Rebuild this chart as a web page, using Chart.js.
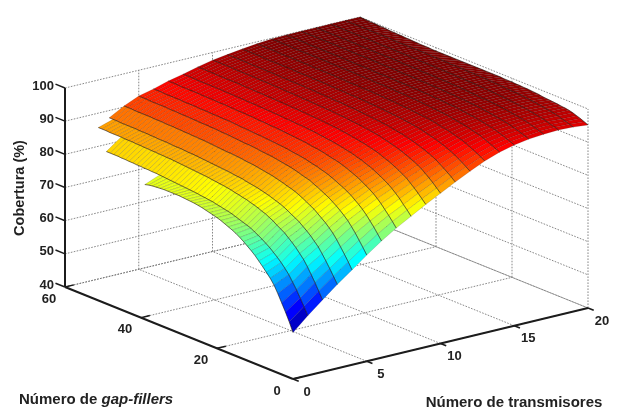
<!DOCTYPE html>
<html>
<head>
<meta charset="utf-8">
<script src="https://cdn.jsdelivr.net/npm/chart.js@4"></script>
<style>
  html, body { margin: 0; background: #fff; }
  canvas { display: block; filter: blur(0.5px); }
</style>
</head>
<body>
<canvas id="chart" width="618" height="412"></canvas>
<script>
const txTicks = [0, 5, 10, 15, 20];
const gapTicks = [0, 20, 40, 60];
const covTicks = [40, 50, 60, 70, 80, 90, 100];

// coverage (%) per transmitter count, one value per gap-filler count from 0 up
const covT0 = [54,56.8,59.3,61.6,63.9,66,67.6,68.9,70.2,71.4,72.6,73.6,74.5,75.4,76.2,76.9,77.5,78,78.5,79,79.4,79.7,80,80.3,80.6,80.8,81,81.1,81.2,81.3,81.4,81.4,81.4,81.4,81.4,81.3,81.2,81.1,80.9,80.6];
const covT1 = [58,60.3,62.4,64.5,66.3,68.1,69.5,70.8,71.9,72.9,73.9,74.7,75.5,76.2,76.8,77.5,77.9,78.3,78.7,79.1,79.5,79.8,80,80.3,80.5,80.8,80.9,81.1,81.2,81.4,81.5,81.6,81.7,81.8,81.9,82,82.1,82.2,82.3,82.4,82.5,82.5,82.6,82.6,82.7,82.7,82.8,82.8,82.9,82.9,83,83,83,83];
const covT2 = [61.7,63.9,66,68,69.9,71.6,72.9,74.2,75.3,76.3,77.3,78,78.7,79.5,80.1,80.7,81.1,81.6,82,82.3,82.7,82.9,83.2,83.4,83.7,83.9,84.1,84.2,84.4,84.5,84.7,84.8,84.9,85,85.1,85.2,85.3,85.4,85.5,85.6,85.7,85.7,85.8,85.8,85.9,85.9,86,86,86.1,86.1,86.2,86.2,86.2,86.3,86.3,86.3,86.3,86.4,86.4,86.4];
const covT3 = [65.3,67.3,69.2,71,72.7,74.3,75.5,76.7,77.7,78.6,79.5,80.2,80.8,81.5,82.1,82.6,83,83.4,83.8,84.1,84.4,84.7,84.9,85.1,85.3,85.6,85.7,85.8,86,86.1,86.2,86.3,86.4,86.5,86.6,86.7,86.8,86.9,87,87,87.1,87.2,87.2,87.2,87.3,87.4,87.4,87.4,87.5,87.5,87.6,87.6,87.6,87.7,87.7,87.7,87.7,87.7,87.8,87.8,87.8];
const covT4 = [68.6,70.6,72.4,74.1,75.8,77.3,78.5,79.6,80.5,81.4,82.3,82.9,83.6,84.2,84.8,85.3,85.7,86,86.4,86.7,87,87.3,87.5,87.7,87.9,88.1,88.3,88.4,88.5,88.7,88.8,88.9,89,89,89.1,89.2,89.3,89.4,89.5,89.6,89.6,89.7,89.7,89.8,89.8,89.9,89.9,90,90,90,90.1,90.1,90.1,90.2,90.2,90.2,90.2,90.2,90.3,90.3,90.3];
const covT5 = [72,73.8,75.5,77.2,78.7,80.1,81.2,82.2,83.1,83.9,84.7,85.3,85.9,86.5,87,87.6,87.9,88.2,88.6,88.9,89.2,89.4,89.6,89.8,90,90.2,90.3,90.4,90.5,90.7,90.8,90.9,90.9,91,91.1,91.2,91.3,91.4,91.4,91.5,91.6,91.6,91.7,91.7,91.7,91.8,91.8,91.9,91.9,91.9,92,92,92,92.1,92.1,92.1,92.1,92.1,92.2,92.2,92.2];
const covT6 = [75.2,76.8,78.4,79.8,81.2,82.4,83.4,84.3,85.2,85.9,86.6,87.1,87.7,88.2,88.7,89.1,89.4,89.8,90,90.3,90.6,90.8,91,91.1,91.3,91.5,91.6,91.7,91.8,91.9,92,92.1,92.2,92.2,92.3,92.4,92.5,92.5,92.6,92.7,92.8,92.8,92.8,92.9,92.9,92.9,93,93,93,93.1,93.1,93.1,93.1,93.2,93.2,93.2,93.2,93.2,93.3,93.3,93.3];
const covT7 = [78,79.5,80.9,82.2,83.5,84.6,85.6,86.4,87.1,87.8,88.5,89,89.5,90,90.4,90.8,91.1,91.3,91.6,91.9,92.1,92.3,92.4,92.6,92.8,92.9,93,93.1,93.2,93.3,93.4,93.5,93.6,93.6,93.7,93.8,93.8,93.9,94,94,94.1,94.1,94.1,94.2,94.2,94.3,94.3,94.3,94.4,94.4,94.4,94.4,94.5,94.5,94.5,94.5,94.5,94.5,94.6,94.6,94.6];
const covT8 = [80.5,81.9,83.1,84.4,85.5,86.5,87.4,88.1,88.8,89.4,90,90.5,90.9,91.4,91.7,92.1,92.4,92.6,92.9,93.1,93.3,93.5,93.6,93.8,93.9,94.1,94.2,94.3,94.4,94.5,94.5,94.6,94.7,94.7,94.8,94.9,94.9,95,95,95.1,95.1,95.2,95.2,95.2,95.3,95.3,95.3,95.4,95.4,95.4,95.5,95.5,95.5,95.5,95.5,95.5,95.5,95.6,95.6,95.6,95.6];
const covT9 = [83,84.2,85.4,86.5,87.5,88.5,89.2,89.9,90.5,91.1,91.6,92,92.5,92.9,93.2,93.5,93.8,94,94.2,94.4,94.6,94.8,94.9,95.1,95.2,95.3,95.4,95.5,95.6,95.7,95.7,95.8,95.9,95.9,96,96,96.1,96.1,96.2,96.2,96.3,96.3,96.3,96.4,96.4,96.4,96.5,96.5,96.5,96.6,96.6,96.6,96.6,96.6,96.6,96.6,96.7,96.7,96.7,96.7,96.7];
const covT10 = [85.3,86.4,87.5,88.5,89.4,90.3,91,91.6,92.1,92.6,93.1,93.5,93.9,94.2,94.5,94.8,95.1,95.3,95.5,95.7,95.8,96,96.1,96.2,96.3,96.5,96.5,96.6,96.7,96.8,96.8,96.9,96.9,97,97,97.1,97.1,97.2,97.2,97.3,97.3,97.3,97.4,97.4,97.4,97.5,97.5,97.5,97.5,97.6,97.6,97.6,97.6,97.6,97.6,97.7,97.7,97.7,97.7,97.7,97.7];
const covT11 = [87.6,88.6,89.5,90.3,91.1,91.9,92.5,93,93.5,93.9,94.3,94.7,95,95.3,95.6,95.8,96,96.2,96.4,96.5,96.7,96.8,96.9,97,97.1,97.2,97.3,97.4,97.4,97.5,97.6,97.6,97.6,97.7,97.7,97.8,97.8,97.9,97.9,97.9,98,98,98,98,98.1,98.1,98.1,98.1,98.2,98.2,98.2,98.2,98.2,98.2,98.2,98.3,98.3,98.3,98.3,98.3,98.3];
const covT12 = [89.8,90.6,91.4,92.1,92.8,93.4,93.9,94.4,94.8,95.2,95.5,95.8,96.1,96.4,96.6,96.8,97,97.1,97.3,97.4,97.5,97.6,97.7,97.8,97.9,98,98,98.1,98.2,98.2,98.3,98.3,98.3,98.4,98.4,98.4,98.5,98.5,98.6,98.6,98.6,98.6,98.7,98.7,98.7,98.7,98.7,98.8,98.8,98.8,98.8,98.8,98.8,98.8,98.8,98.9,98.9,98.9,98.9,98.9,98.9];
const covT13 = [91.8,92.5,93.1,93.7,94.3,94.8,95.3,95.6,96,96.3,96.6,96.8,97,97.3,97.5,97.7,97.8,97.9,98,98.1,98.3,98.3,98.4,98.5,98.6,98.6,98.7,98.7,98.8,98.8,98.9,98.9,98.9,99,99,99,99,99.1,99.1,99.1,99.2,99.2,99.2,99.2,99.2,99.2,99.3,99.3,99.3,99.3,99.3,99.3,99.3,99.3,99.3,99.4,99.4,99.4,99.4,99.4,99.4];
const covT14 = [93.4,94,94.5,95,95.5,96,96.3,96.6,96.9,97.2,97.4,97.6,97.8,98,98.2,98.3,98.4,98.5,98.6,98.7,98.8,98.9,99,99,99.1,99.2,99.2,99.2,99.3,99.3,99.4,99.4,99.4,99.4,99.5,99.5,99.5,99.5,99.6,99.6,99.6,99.6,99.6,99.6,99.6,99.7,99.7,99.7,99.7,99.7,99.7,99.7,99.7,99.7,99.7,99.8,99.8,99.8,99.8,99.8,99.8];
const covT15 = [94.5,95,95.4,95.9,96.3,96.7,97,97.2,97.5,97.7,97.9,98.1,98.2,98.4,98.5,98.7,98.8,98.8,98.9,99,99.1,99.1,99.2,99.3,99.3,99.4,99.4,99.4,99.5,99.5,99.5,99.5,99.6,99.6,99.6,99.6,99.6,99.6,99.7,99.7,99.7,99.7,99.7,99.7,99.7,99.8,99.8,99.8,99.8,99.8,99.8,99.8,99.8,99.8,99.8,99.9,99.9,99.9,99.9,99.9,99.9];
const covT16 = [95.2,95.6,96,96.4,96.8,97.1,97.4,97.6,97.8,98,98.2,98.4,98.5,98.7,98.8,98.9,99,99.1,99.1,99.2,99.3,99.3,99.4,99.4,99.5,99.5,99.5,99.6,99.6,99.6,99.7,99.7,99.7,99.7,99.7,99.8,99.8,99.8,99.8,99.8,99.9,99.9,99.9,99.9,99.9,99.9,99.9,99.9,99.9,100,100,100,100,100,100,100,100,100,100,100,100];
const covT17 = [95.6,96,96.4,96.7,97.1,97.4,97.6,97.8,98,98.2,98.4,98.5,98.7,98.8,98.9,99,99,99.1,99.2,99.2,99.3,99.4,99.4,99.5,99.5,99.6,99.6,99.6,99.6,99.7,99.7,99.7,99.7,99.8,99.8,99.8,99.8,99.8,99.9,99.9,99.9,99.9,99.9,99.9,99.9,99.9,99.9,99.9,99.9,100,100,100,100,100,100,100,100,100,100,100,100];
const covT18 = [95.8,96.2,96.5,96.9,97.2,97.5,97.7,97.9,98.1,98.3,98.4,98.6,98.7,98.8,98.9,99,99.1,99.2,99.2,99.3,99.4,99.4,99.5,99.5,99.5,99.6,99.6,99.6,99.7,99.7,99.7,99.7,99.7,99.8,99.8,99.8,99.8,99.8,99.9,99.9,99.9,99.9,99.9,99.9,99.9,99.9,99.9,99.9,99.9,100,100,100,100,100,100,100,100,100,100,100,100];
const covT19 = [95.6,96,96.4,96.7,97.1,97.4,97.6,97.8,98,98.2,98.4,98.5,98.7,98.8,98.9,99,99,99.1,99.2,99.2,99.3,99.4,99.4,99.5,99.5,99.6,99.6,99.6,99.6,99.7,99.7,99.7,99.7,99.8,99.8,99.8,99.8,99.8,99.9,99.9,99.9,99.9,99.9,99.9,99.9,99.9,99.9,99.9,99.9,100,100,100,100,100,100,100,100,100,100,100,100];
const covT20 = [95.2,95.7,96.2,96.6,97,97.3,97.5,97.6,97.8,97.9,98,98.1,98.2,98.4,98.5,98.6,98.7,98.7,98.8,98.8,98.9,98.9,98.9,99,99,99,99,99,99,99,99,99,99,99,99,99,99,99,99,99,99,99,99.1,99.1,99.1,99.2,99.2,99.3,99.3,99.4,99.4,99.5,99.5,99.6,99.7,99.7,99.8,99.8,99.9,99.9,100];
const coverage = [covT0, covT1, covT2, covT3, covT4, covT5, covT6, covT7, covT8, covT9, covT10,
  covT11, covT12, covT13, covT14, covT15, covT16, covT17, covT18, covT19, covT20];

// fixed oblique view, same role as MATLAB's view(az, el)
function project(t, g, z) {
  return {
    x: 293 + 14.75 * t - 3.8 * g,
    y: 379 - 3.55 * t - 1.533 * g - 3.317 * (z - 40)
  };
}

function jet(z) {
  const v = (z - 54) / 46;
  const c = n => Math.round(255 * Math.max(0, Math.min(1, 1.5 - Math.abs(4 * v - n))));
  return 'rgb(' + c(3) + ',' + c(2) + ',' + c(1) + ')';
}

function lineSet(points, color, width, dash) {
  return {
    data: points,
    showLine: true,
    fill: false,
    borderColor: color,
    borderWidth: width,
    borderDash: dash || [],
    pointRadius: 0
  };
}

const datasets = [];

// bold lines at every transmitter count
coverage.forEach((row, i) => {
  datasets.push(lineSet(row.map((z, g) => project(i, g, z)), 'rgba(20,10,0,0.55)', 0.9));
});

// surface cells, front to back because Chart.js paints the first dataset last
for (let i = 0; i < coverage.length - 1; i++) {
  const a = coverage[i], b = coverage[i + 1];
  for (let g = 0; g < a.length - 1; g++) {
    const poly = [
      project(i + 1, g, b[g]),
      project(i + 1, g + 1, b[g + 1]),
      project(i, g + 1, a[g + 1]),
      project(i, g, a[g])
    ];
    poly.push(poly[0]);
    const mean = (a[g] + a[g + 1] + b[g] + b[g + 1]) / 4;
    datasets.push({
      data: poly,
      showLine: true,
      fill: 'shape',
      backgroundColor: jet(mean),
      borderColor: 'rgba(0,0,0,0.22)',
      borderWidth: 0.6,
      pointRadius: 0
    });
  }
}

// axes
const axisColor = '#1c1c1c';
datasets.push(lineSet([project(0, 60, 40), project(0, 60, 100)], axisColor, 2));
datasets.push(lineSet([project(0, 60, 40), project(0, 0, 40)], axisColor, 2));
datasets.push(lineSet([project(0, 0, 40), project(20, 0, 40)], axisColor, 2));
covTicks.forEach(z => datasets.push(lineSet([project(0, 60, z), project(0, 62.5, z)], axisColor, 1.5)));
gapTicks.forEach(g => datasets.push(lineSet([project(0, g, 40), project(0.6, g, 40)], axisColor, 1.5)));
txTicks.forEach(t => datasets.push(lineSet([project(t, 0, 40), project(t, -1.5, 40)], axisColor, 1.5)));

// dotted grid on floor and back walls
const gridColor = 'rgba(115,115,115,0.85)';
const dots = [1.6, 1.4];
txTicks.forEach(t => {
  datasets.push(lineSet([project(t, 0, 40), project(t, 60, 40)], gridColor, 1, dots));
  datasets.push(lineSet([project(t, 60, 40), project(t, 60, 100)], gridColor, 1, dots));
});
gapTicks.forEach(g => {
  datasets.push(lineSet([project(0, g, 40), project(20, g, 40)], gridColor, 1, dots));
  datasets.push(lineSet([project(20, g, 40), project(20, g, 100)], gridColor, 1, dots));
});
covTicks.forEach(z => {
  datasets.push(lineSet([project(0, 60, z), project(20, 60, z)], gridColor, 1, dots));
  datasets.push(lineSet([project(20, 60, z), project(20, 0, z)], gridColor, 1, dots));
});

const axisText = {
  id: 'axisText',
  afterDraw(chart) {
    const { ctx, scales } = chart;
    const px = p => ({ x: scales.x.getPixelForValue(p.x), y: scales.y.getPixelForValue(p.y) });
    const put = (text, p, dx, dy, align) => {
      ctx.textAlign = align || 'center';
      ctx.fillText(text, p.x + dx, p.y + dy);
    };
    ctx.save();
    ctx.fillStyle = '#222';
    ctx.textBaseline = 'middle';
    ctx.font = 'bold 13px "Liberation Sans", Arial, sans-serif';
    covTicks.forEach(z => put(String(z), px(project(0, 60, z)), -11, -2, 'right'));
    gapTicks.forEach(g => put(String(g), px(project(0, g, 40)), -16, 12));
    txTicks.forEach(t => put(String(t), px(project(t, 0, 40)), 14, 13));

    ctx.font = 'bold 15px "Liberation Sans", Arial, sans-serif';
    put('Número de transmisores', { x: 514, y: 403 }, 0, 0);
    ctx.textAlign = 'left';
    ctx.fillText('Número de ', 19, 400);
    const w = ctx.measureText('Número de ').width;
    ctx.font = 'italic bold 15px "Liberation Sans", Arial, sans-serif';
    ctx.fillText('gap-fillers', 19 + w, 400);

    ctx.font = 'bold 14.5px "Liberation Sans", Arial, sans-serif';
    ctx.translate(20, 188);
    ctx.rotate(-Math.PI / 2);
    ctx.textAlign = 'center';
    ctx.fillText('Cobertura (%)', 0, 0);
    ctx.restore();
  }
};

new Chart(document.getElementById('chart'), {
  type: 'scatter',
  data: { datasets },
  options: {
    responsive: false,
    animation: false,
    layout: { padding: 0 },
    plugins: { legend: { display: false }, tooltip: { enabled: false } },
    scales: {
      x: { type: 'linear', display: false, min: 0, max: 618 },
      y: { type: 'linear', display: false, min: 0, max: 412, reverse: true }
    }
  },
  plugins: [axisText]
});
</script>
</body>
</html>
